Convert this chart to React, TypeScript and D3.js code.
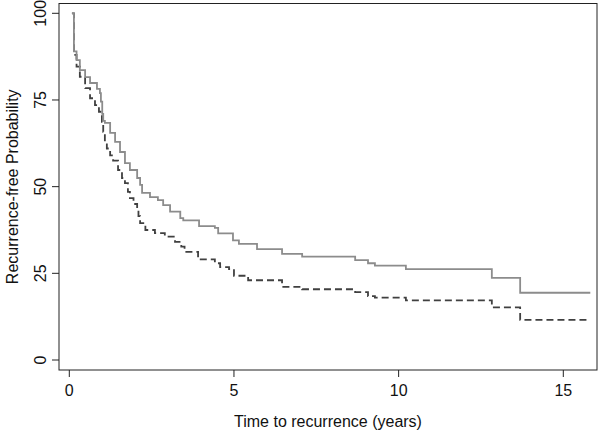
import React from "react";
import * as d3 from "d3";

const xTicks = [0, 5, 10, 15];
const yTicks = [0, 25, 50, 75, 100];
const xLabel = "Time to recurrence (years)";
const yLabel = "Recurrence-free Probability";
const endTime = 15.82;

// Solid (gray) curve: step times and survival (%) after each step
const solidTimes = [0.08, 0.14, 0.22, 0.32, 0.48, 0.63, 0.84, 0.93, 0.96, 1.0, 1.03, 1.08, 1.24, 1.39, 1.54, 1.69, 1.84, 2.06, 2.15, 2.21, 2.45, 2.69, 2.85, 3.06, 3.37, 3.46, 3.94, 4.42, 4.52, 4.97, 5.15, 5.7, 6.46, 7.07, 8.68, 9.07, 9.28, 10.22, 12.83, 13.69];
const solidValues = [100, 89, 86.5, 83.6, 81.6, 79.9, 78.2, 77, 74.5, 71, 69, 68.4, 65.5, 62.9, 60, 56.8, 54.8, 52.5, 50.5, 48.2, 47, 46.1, 44.7, 42.8, 40.9, 40.3, 38.6, 38.1, 36.5, 34.5, 33.5, 32.0, 30.6, 29.8, 28.8, 27.9, 27.2, 26.2, 23.7, 19.4];

// Dashed (dark) curve
const dashedTimes = [0.08, 0.14, 0.22, 0.32, 0.48, 0.63, 0.78, 0.9, 0.99, 1.03, 1.08, 1.14, 1.24, 1.33, 1.48, 1.6, 1.69, 1.78, 1.84, 1.95, 2.06, 2.1, 2.15, 2.31, 2.6, 2.9, 3.21, 3.4, 3.5, 3.91, 4.42, 4.58, 4.85, 5.0, 5.43, 6.46, 7.07, 8.68, 9.07, 9.28, 10.22, 12.83, 13.69];
const dashedValues = [100, 88, 84.6, 81.7, 78.4, 75.5, 73.5, 71.6, 68.7, 65.8, 63, 61, 59, 57.5, 54.8, 52.5, 51, 48.5, 46.7, 45, 43.3, 41.5, 39.5, 37.5, 36.6, 35.6, 34.1, 32.7, 31.2, 29.0, 27.9, 26.8, 26.2, 24.3, 23.0, 21.1, 20.4, 19.6, 18.4, 18.0, 17.2, 15.2, 11.6];

const font = "'Liberation Sans', Arial, sans-serif";

export default function App() {
  const W = 600, H = 430;
  const x = d3.scaleLinear().domain([0, 15]).range([69.3, 563.3]);
  const y = d3.scaleLinear().domain([0, 100]).range([360, 13.3]);
  const box = { l: 59, r: 597, t: 3.5, b: 370 };

  const line = d3
    .line<[number, number]>()
    .x((d) => x(d[0]))
    .y((d) => y(d[1]))
    .curve(d3.curveStepAfter);

  const mk = (ts: number[], vs: number[]): [number, number][] => {
    const pts: [number, number][] = ts.map((t, i) => [t, vs[i]]);
    pts.push([endTime, vs[vs.length - 1]]);
    return pts;
  };

  const solid = line(mk(solidTimes, solidValues)) || "";
  const dashed = line(mk(dashedTimes, dashedValues)) || "";

  return (
    <svg
      width={W}
      height={H}
      style={{ position: "absolute", left: 0, top: 0, background: "#fff" }}
      fontFamily={font}
    >
      <rect x={0} y={0} width={W} height={H} fill="#fff" />
      <path d={dashed} fill="none" stroke="#404040" strokeWidth={1.8} strokeDasharray="7,4" />
      <path d={solid} fill="none" stroke="#8c8c8c" strokeWidth={1.8} />
      <rect
        x={box.l}
        y={box.t}
        width={box.r - box.l}
        height={box.b - box.t}
        fill="none"
        stroke="#222"
        strokeWidth={1}
      />
      {xTicks.map((t) => (
        <g key={"x" + t}>
          <line x1={x(t)} x2={x(t)} y1={box.b} y2={box.b + 7} stroke="#222" strokeWidth={1} />
          <text x={x(t)} y={396} textAnchor="middle" fontSize={16} fill="#111">
            {t}
          </text>
        </g>
      ))}
      {yTicks.map((v) => (
        <g key={"y" + v}>
          <line x1={box.l - 7} x2={box.l} y1={y(v)} y2={y(v)} stroke="#222" strokeWidth={1} />
          <text
            transform={`translate(46,${y(v)}) rotate(-90)`}
            textAnchor="middle"
            fontSize={16}
            fill="#111"
          >
            {v}
          </text>
        </g>
      ))}
      <text x={(box.l + box.r) / 2} y={427} textAnchor="middle" fontSize={16} fill="#111">
        {xLabel}
      </text>
      <text
        transform={`translate(18,${(box.t + box.b) / 2}) rotate(-90)`}
        textAnchor="middle"
        fontSize={16}
        fill="#111"
      >
        {yLabel}
      </text>
    </svg>
  );
}
